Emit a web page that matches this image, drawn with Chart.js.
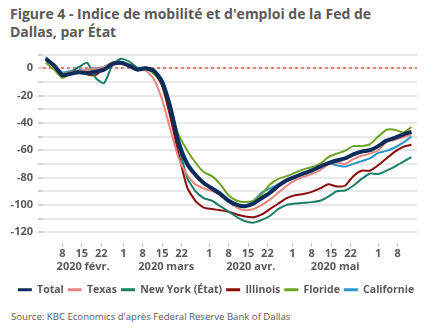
<!DOCTYPE html>
<html lang="fr">
<head>
<meta charset="UTF-8">
<title>Figure 4</title>
<script src="https://cdn.jsdelivr.net/npm/chart.js@4.4.0/dist/chart.umd.min.js"></script>
<style>
  * { margin: 0; padding: 0; box-sizing: border-box; }
  body { width: 432px; height: 334px; background: #fff; font-family: "Open Sans", sans-serif; color: #595959; position: relative; overflow: hidden; }
  .title { position: absolute; left: 10px; top: 5px; font-size: 14px; font-weight: bold; line-height: 18px; }
  .chart { position: absolute; left: 0; top: 43px; width: 432px; height: 262px; }
  .source { position: absolute; left: 11px; top: 310px; font-size: 9.6px; }
</style>
</head>
<body>
<div class="title">Figure 4 - Indice de mobilité et d'emploi de la Fed de<br>Dallas, par État</div>
<div class="chart"><canvas id="c"></canvas></div>
<div class="source">Source: KBC Economics d'après Federal Reserve Bank of Dallas</div>
<script>
// jours depuis le 1er février 2020
const days = [1, 4, 7, 10, 13, 16, 19, 22, 25, 28, 31, 34, 37, 40, 43, 46, 49, 52, 55, 58, 61, 64, 67, 70,
  73, 76, 79, 82, 85, 88, 91, 94, 97, 100, 103, 106, 109, 112, 115, 118, 121, 124, 127, 130, 133];

const total = [7, 2, -5, -4, -3, -3.5, -2.5, -1, 3, 4, 2, -1, 0, -2, -10, -29, -55, -70, -78, -84, -88, -92, -97, -100,
  -101, -99, -95, -91, -86, -82, -79.5, -77, -75, -72, -69.5, -67.5, -66, -63, -61, -60, -57, -53, -51, -48.5, -46.5];
const texas = [6, 1, -4, -3, -2, -1, -0.5, 1, 3.5, 4.5, 1.5, -1, -1.5, -8, -23, -45, -66, -78, -85, -88, -90, -93, -97, -102,
  -104, -103, -100, -96, -91, -86, -82, -79.5, -77.5, -74.5, -70.5, -69, -70, -66.5, -64, -62.5, -60, -54, -52.5, -50.5, -48.5];
const newYork = [8, 2, -4, -2.5, 1, 4, -7, -11, 2, 7, 5, 0.5, 0.5, -1, -10, -30, -57, -80, -90, -95, -97, -101, -105, -109,
  -112, -113, -111, -108, -103, -100, -99, -98.5, -98, -97, -94, -90, -89.5, -86, -81, -77, -77.5, -75, -72, -68.5, -65];
const illinois = [7, 2, -5, -3, -2.5, -4.5, -5, 0, 4, 4.5, 2.5, -0.5, -1, -2, -13, -36, -63, -87, -97, -102, -103, -104, -105, -107,
  -108.5, -109, -107, -103, -99, -95, -93, -92, -90.5, -88, -85, -86.5, -86, -79, -75, -75, -71, -66, -61, -57.5, -56];
const floride = [4, -1, -7, -4, -3, -2.5, -2, 0, 2.5, 3.5, 1.5, -1, 0, -4, -12, -31, -49, -60, -69, -76, -79, -85, -93, -97,
  -98, -97, -92, -85, -81, -79, -76.5, -74, -72.5, -70, -65, -62.5, -60.5, -57, -57, -55.5, -50, -45, -45, -47, -43];
const californie = [7, 2, -3, -2, -1.5, -1, 0, 1, 4, 5, 2, -0.5, 0, -1, -8, -27, -52, -68, -77, -84, -88, -93, -98, -101,
  -101, -97, -91, -88, -85, -82, -80, -78, -75, -72, -69.5, -71, -72, -70, -68, -66, -62, -60.5, -58, -54.5, -50];

const dayTicks = [7, 14, 21, 29, 36, 43, 50, 60, 67, 74, 81, 90, 97, 104, 111, 121, 128];
const dayLabels = ['8', '15', '22', '1', '8', '15', '22', '1', '8', '15', '22', '1', '8', '15', '22', '1', '8'];
const monthTicks = [14.5, 44.5, 75, 105.5];
const monthLabels = ['2020 févr.', '2020 mars', '2020 avr.', '2020 mai'];

const series = [
  { label: 'Total', data: total, color: '#0c2c5c', width: 4 },
  { label: 'Texas', data: texas, color: '#e8877e', width: 2 },
  { label: 'New York (État)', data: newYork, color: '#1a7d66', width: 2 },
  { label: 'Illinois', data: illinois, color: '#8a0b0b', width: 2 },
  { label: 'Floride', data: floride, color: '#6ba324', width: 2 },
  { label: 'Californie', data: californie, color: '#2f94c6', width: 2 }
];

const grey = '#595959';

// ligne zéro pointillée rouge
const zeroLine = {
  id: 'zeroLine',
  beforeDatasetsDraw(chart) {
    const { ctx, chartArea, scales } = chart;
    const y = Math.round(scales.y.getPixelForValue(0));
    ctx.save();
    ctx.strokeStyle = '#f07a78';
    ctx.lineWidth = 2;
    ctx.setLineDash([3, 3]);
    ctx.beginPath();
    ctx.moveTo(chartArea.left, y);
    ctx.lineTo(chartArea.right, y);
    ctx.stroke();
    ctx.restore();
  }
};

new Chart(document.getElementById('c'), {
  type: 'line',
  data: {
    datasets: series.map(s => ({
      label: s.label,
      data: days.map((d, i) => ({ x: d, y: s.data[i] })),
      borderColor: s.color,
      backgroundColor: s.color,
      borderWidth: s.width,
      pointRadius: 0,
      tension: 0.2,
      fill: false
    }))
  },
  options: {
    responsive: true,
    maintainAspectRatio: false,
    animation: false,
    layout: { padding: { left: 0, right: 0, top: 4, bottom: 0 } },
    plugins: {
      legend: {
        position: 'bottom',
        labels: {
          boxWidth: 14, boxHeight: 3, padding: 4, color: grey,
          font: { family: 'Open Sans', size: 10.5, weight: 'bold' },
          generateLabels: chart => Chart.defaults.plugins.legend.labels.generateLabels(chart)
            .map(l => Object.assign(l, { lineWidth: 0 }))
        }
      },
      tooltip: { enabled: false }
    },
    scales: {
      x: {
        type: 'linear', min: 0, max: 135,
        afterBuildTicks: a => { a.ticks = dayTicks.map(v => ({ value: v })); },
        ticks: { autoSkip: false, maxRotation: 0, padding: 5, color: grey,
          font: { family: 'Open Sans', size: 11, weight: 'bold', lineHeight: 0.4 },
          callback: (v, i) => dayLabels[i] },
        grid: { drawOnChartArea: false, tickLength: 4, tickColor: '#cccccc' },
        border: { display: false }
      },
      x2: {
        type: 'linear', position: 'bottom', min: 0, max: 135,
        afterBuildTicks: a => { a.ticks = monthTicks.map(v => ({ value: v })); },
        afterFit: a => { a.height += 8; },
        ticks: { autoSkip: false, maxRotation: 0, padding: 0, color: grey,
          font: { family: 'Open Sans', size: 11, weight: 'bold', lineHeight: 1 },
          callback: (v, i) => monthLabels[i] },
        grid: { display: false, drawTicks: false },
        border: { display: false }
      },
      y: {
        type: 'linear', min: -128, max: 10,
        afterFit: a => { a.width = 43; },
        ticks: { stepSize: 10, includeBounds: false, autoSkip: false, padding: 5, color: grey,
          font: { family: 'Open Sans', size: 11, weight: 'bold' },
          callback: v => (Math.round(v) % 20 === 0 && v <= 0) ? String(v) : '' },
        grid: { color: '#e8e8e8', lineWidth: 2, tickLength: 5, tickColor: '#d0d0d0' },
        border: { display: false }
      },
      // marge droite
      yRight: {
        type: 'linear', position: 'right',
        afterFit: a => { a.width = 15; },
        ticks: { display: false },
        grid: { display: false, drawTicks: false },
        border: { display: false }
      }
    }
  },
  plugins: [zeroLine]
});
</script>
</body>
</html>
